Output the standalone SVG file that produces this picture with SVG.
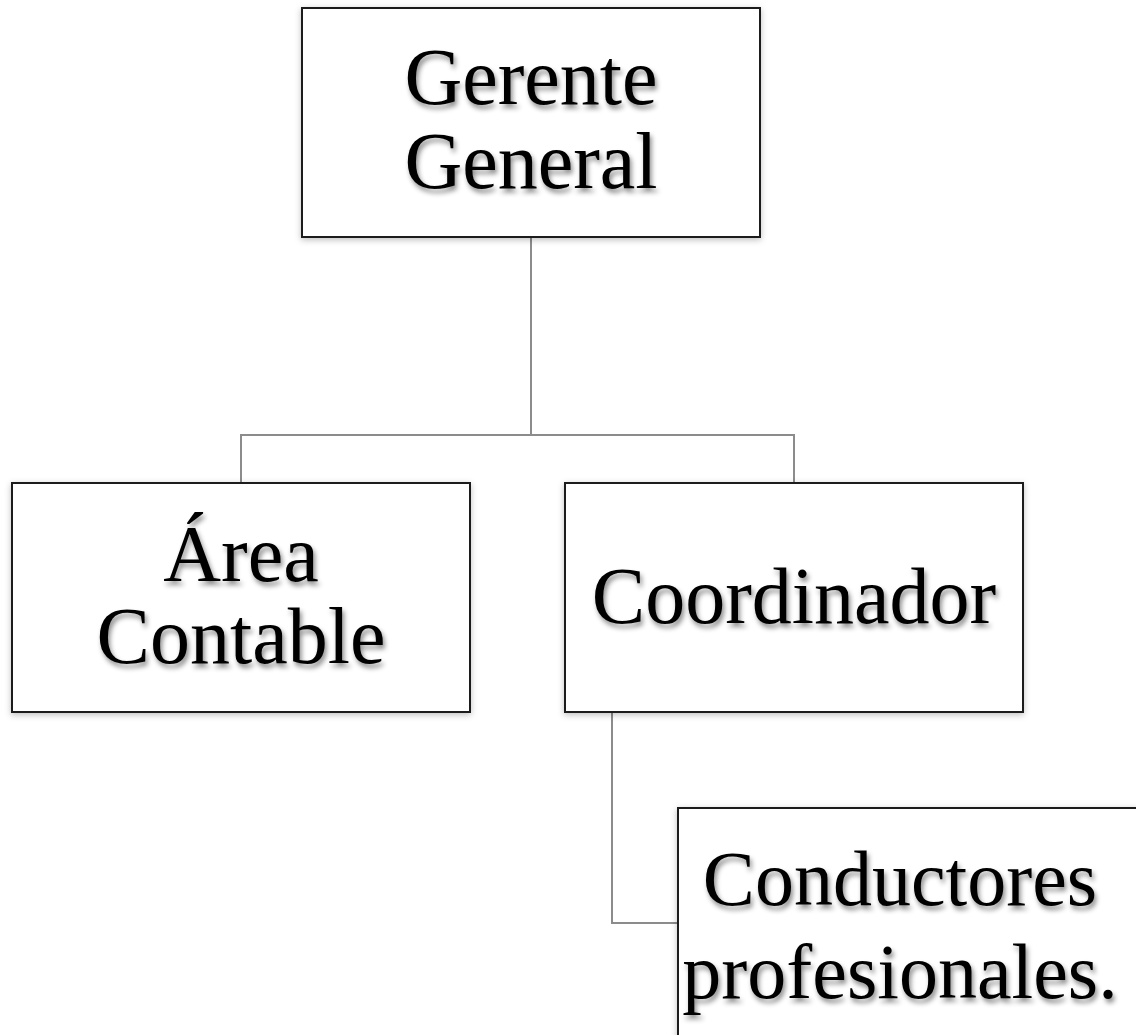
<svg xmlns="http://www.w3.org/2000/svg" width="1136" height="1035" viewBox="0 0 1136 1035">
<style>
.box{fill:#fff;stroke:#1a1a1a;stroke-width:2;filter:url(#bs)}
.lbl{font-family:"Liberation Serif","Times New Roman",serif;font-size:80px;fill:#000;text-anchor:middle;filter:url(#ts)}
.con{fill:none;stroke:#8c8c8c;stroke-width:2}
</style>
<defs>
<filter id="ts" x="-10%" y="-30%" width="120%" height="160%">
<feDropShadow dx="2" dy="4" stdDeviation="2.5" flood-color="#000" flood-opacity="0.45"/>
</filter>
<filter id="bs" x="-5%" y="-5%" width="110%" height="110%">
<feDropShadow dx="0" dy="2" stdDeviation="3" flood-color="#000" flood-opacity="0.25"/>
</filter>
</defs>
<rect width="1136" height="1035" fill="#fff"/>
<g id="connectors">
<path class="con" d="M531 237 V435"/>
<path class="con" d="M241 483 V435 H794 V483"/>
<path class="con" d="M612 712 V923 H678"/>
</g>
<g id="gerente">
<rect class="box" x="302" y="8" width="458" height="229"/>
<text class="lbl" x="531" y="104">Gerente</text>
<text class="lbl" x="531" y="188">General</text>
</g>
<g id="area">
<rect class="box" x="12" y="483" width="458" height="229"/>
<text class="lbl" x="241" y="581">Área</text>
<text class="lbl" x="241" y="663">Contable</text>
</g>
<g id="coordinador">
<rect class="box" x="565" y="483" width="458" height="229"/>
<text class="lbl" x="794" y="623">Coordinador</text>
</g>
<g id="conductores">
<rect class="box" x="678" y="808" width="480" height="250"/>
<text class="lbl" x="900" y="905" style="font-size:78px">Conductores</text>
<text class="lbl" x="900" y="998" style="font-size:78px">profesionales.</text>
</g>
</svg>
